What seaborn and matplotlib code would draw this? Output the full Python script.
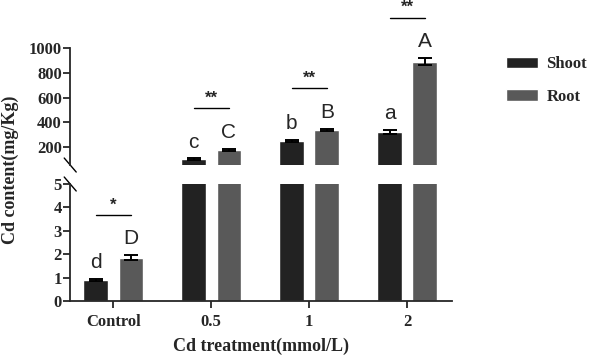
import pandas as pd
import matplotlib.pyplot as plt
import matplotlib.transforms as mtransforms
from matplotlib.patches import Patch
import seaborn as sns

# Data
groups = ["Control", "0.5", "1", "2"]
shoot = [0.9, 100, 250, 320]
root = [1.85, 180, 338, 890]
shoot_err = [0.04, 8, 8, 15]
root_err = [0.1, 8, 10, 30]
shoot_letters = ["d", "c", "b", "a"]
root_letters = ["D", "C", "B", "A"]
sig_marks = ["*", "**", "**", "**"]

colors = {"Shoot": "#222222", "Root": "#595959"}

df = pd.DataFrame({
    "group": groups * 2,
    "tissue": ["Shoot"] * len(groups) + ["Root"] * len(groups),
    "value": shoot + root,
    "err": shoot_err + root_err,
})

sns.set_style("ticks")
plt.rcParams['font.family'] = ['Liberation Serif', 'DejaVu Serif']

fig = plt.figure(figsize=(5.95, 3.58), dpi=100)
ax_top = fig.add_axes([0.118, 0.539, 0.642, 0.327])
ax_bot = fig.add_axes([0.118, 0.159, 0.642, 0.327])

for ax in (ax_top, ax_bot):
    sns.barplot(data=df, x="group", y="value", hue="tissue", order=groups,
                hue_order=["Shoot", "Root"], palette=colors, width=0.72, gap=0.3,
                errorbar=None, legend=False, ax=ax, saturation=1)
    ax.set_xlim(-0.44, 3.46)
    ax.set_xlabel("")
    ax.set_ylabel("")

ax_top.set_ylim(55, 1000)
ax_top.set_yticks([200, 400, 600, 800, 1000])
ax_bot.set_ylim(0, 5)
ax_bot.set_yticks([0, 1, 2, 3, 4, 5])

for ax in (ax_top, ax_bot):
    for s in ["top", "right"]:
        ax.spines[s].set_visible(False)
    ax.spines["left"].set_linewidth(1.3)
    ax.tick_params(axis="y", direction="out", length=5, width=1.3, labelsize=12, pad=1)
    for lab in ax.get_yticklabels():
        lab.set_fontweight("bold")

ax_top.spines["bottom"].set_visible(False)
ax_top.tick_params(axis="x", bottom=False, labelbottom=False)
ax_bot.spines["bottom"].set_linewidth(1.3)
ax_bot.tick_params(axis="x", direction="out", length=5, width=1.3, labelsize=12, pad=4)
for lab in ax_bot.get_xticklabels():
    lab.set_fontweight("bold")

# error bars, letters and significance lines
n = len(groups)
for ax in (ax_top, ax_bot):
    patches = ax.patches
    sx = [p.get_x() + p.get_width() / 2 for p in patches[:n]]
    rx = [p.get_x() + p.get_width() / 2 for p in patches[n:2 * n]]
    ax.errorbar(sx, shoot, yerr=shoot_err, fmt="none", ecolor="black",
                elinewidth=1.4, capsize=5, capthick=1.4)
    ax.errorbar(rx, root, yerr=root_err, fmt="none", ecolor="black",
                elinewidth=1.4, capsize=5, capthick=1.4)
    for i in range(n):
        in_bot = root[i] <= 5
        if (ax is ax_bot) != in_bot:
            continue
        ax.annotate(shoot_letters[i], (sx[i], shoot[i] + shoot_err[i]),
                    xytext=(0, 5), textcoords="offset points", ha="center",
                    va="bottom", fontsize=15, family="Liberation Sans")
        ax.annotate(root_letters[i], (rx[i], root[i] + root_err[i]),
                    xytext=(0, 5), textcoords="offset points", ha="center",
                    va="bottom", fontsize=15, family="Liberation Sans")
        top = max(shoot[i] + shoot_err[i], root[i] + root_err[i])
        tr = mtransforms.offset_copy(ax.transData, fig=fig, y=29, units="points")
        ax.plot([sx[i], rx[i]], [top, top], color="black", lw=1.0,
                transform=tr, clip_on=False)
        tr2 = mtransforms.offset_copy(ax.transData, fig=fig, y=31, units="points")
        ax.text((sx[i] + rx[i]) / 2, top, sig_marks[i], ha="center", va="bottom",
                fontsize=12, fontweight="bold", transform=tr2,
                family="Liberation Sans")

# break marks
dx, dy = 6 / 382, 7 / 117
ax_top.plot([-dx, dx], [dy, -dy], transform=ax_top.transAxes, color="black",
            lw=1.0, clip_on=False)
ax_bot.plot([-dx, dx], [1 + dy, 1 - dy], transform=ax_bot.transAxes,
            color="black", lw=1.0, clip_on=False)

ax_bot.set_xlabel("Cd treatment(mmol/L)", fontsize=13, fontweight="bold", labelpad=6)
fig.text(0.018, 0.525, "Cd content(mg/Kg)", rotation=90, ha="center", va="center",
         fontsize=13, fontweight="bold")

handles = [Patch(facecolor=colors["Shoot"]), Patch(facecolor=colors["Root"])]
fig.legend(handles, ["Shoot", "Root"], loc="upper left",
           bbox_to_anchor=(0.826, 0.885), frameon=False,
           prop={"weight": "bold", "size": 12}, handlelength=1.9,
           handleheight=0.7, handletextpad=0.5, labelspacing=1.0)

plt.savefig("out.png", dpi=100)
